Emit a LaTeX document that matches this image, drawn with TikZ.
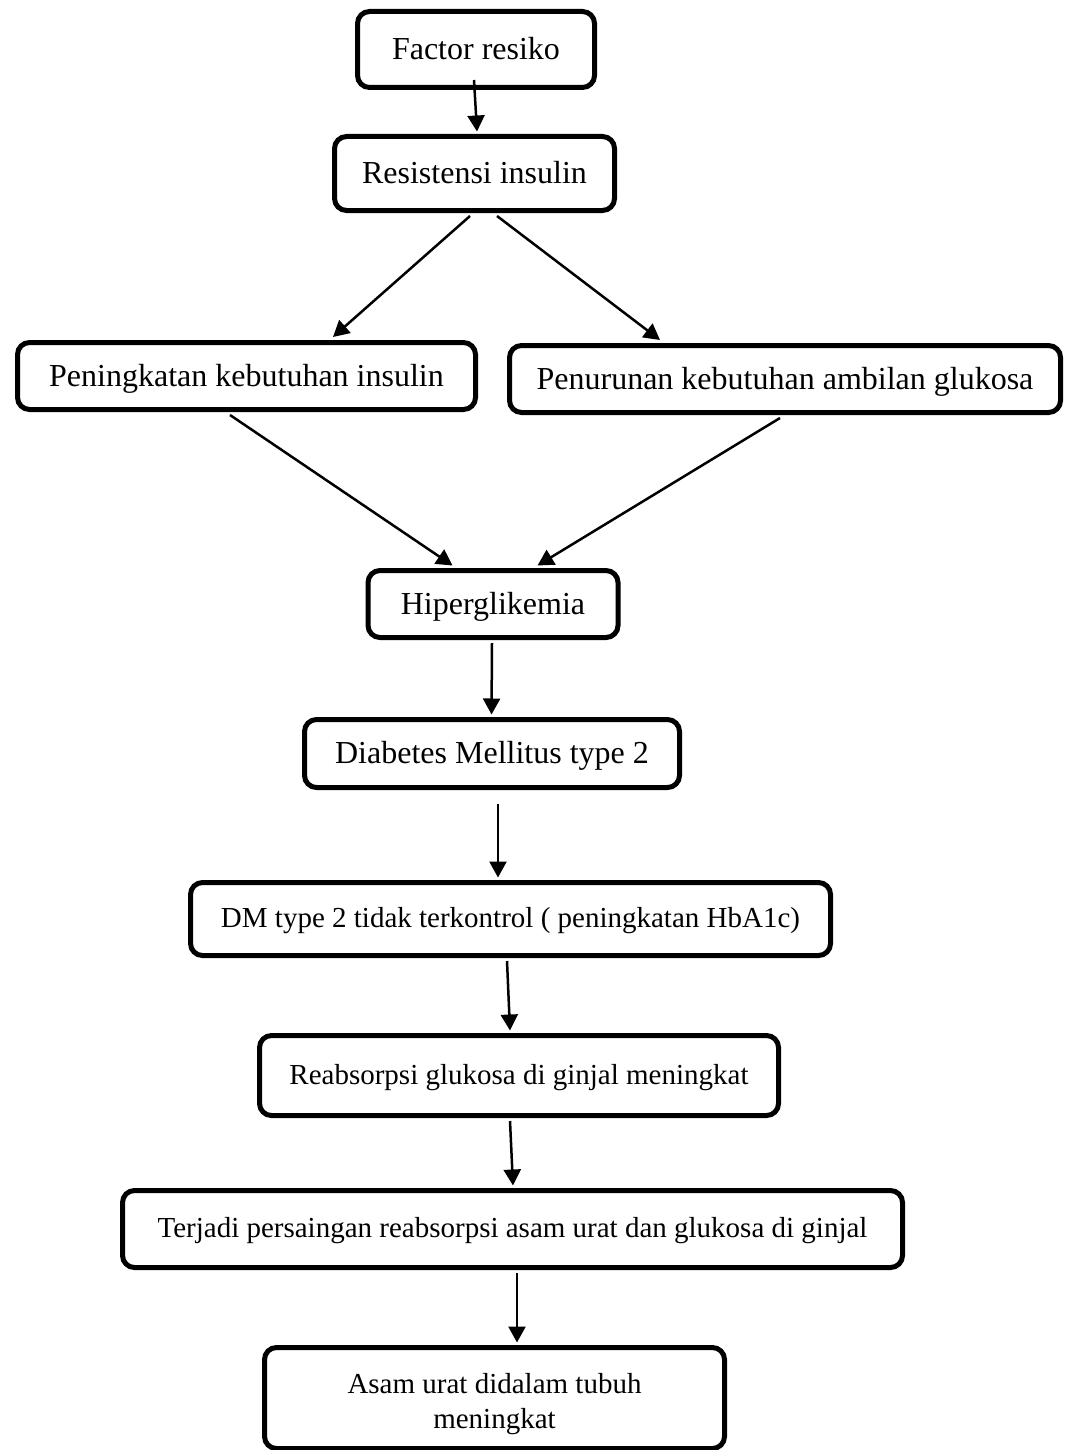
\documentclass[tikz,border=0pt]{standalone}
\usepackage{fontspec}
\setmainfont{Liberation Serif}
\usetikzlibrary{arrows.meta}
\tikzset{
  box/.style={draw=black, line width=5pt, rounded corners=12pt, fill=white, inner sep=0pt, text depth=0.22em},
  big/.style={font=\fontsize{32}{38}\selectfont},
  small/.style={font=\fontsize{29}{34.5}\selectfont},
  arr/.style={line width=2.5pt, -{Triangle[length=16pt, width=17pt]}},
}
\begin{document}
\begin{tikzpicture}[x=1pt,y=-1pt]
\useasboundingbox (0,0) rectangle (1070,1450);
\node[box,big,minimum width=237pt,minimum height=76pt] (f) at (476,49.5) {Factor resiko};
\node[box,big,minimum width=280pt,minimum height=74pt] (r) at (474.5,173.5) {Resistensi insulin};
\node[box,big,minimum width=458pt,minimum height=67pt] (p1) at (246.5,376) {Peningkatan kebutuhan insulin};
\node[box,big,minimum width=551pt,minimum height=67pt] (p2) at (785,379) {Penurunan kebutuhan ambilan glukosa};
\node[box,big,minimum width=250pt,minimum height=67pt] (h) at (493,604) {Hiperglikemia};
\node[box,big,minimum width=375pt,minimum height=68pt] (d) at (492,753.5) {Diabetes Mellitus type 2};
\node[box,small,minimum width=640pt,minimum height=73pt] (dt) at (510.5,919) {DM type 2 tidak terkontrol ( peningkatan HbA1c)};
\node[box,small,minimum width=519pt,minimum height=80pt] (ra) at (519,1075.5) {Reabsorpsi glukosa di ginjal meningkat};
\node[box,small,minimum width=780pt,minimum height=77pt] (t) at (512.5,1229) {Terjadi persaingan reabsorpsi asam urat dan glukosa di ginjal};
\node[box,minimum width=460pt,minimum height=101pt] (a) at (494.5,1398) {};
\node[small,align=center,inner sep=0pt] (at) at (494.5,1404) {Asam urat didalam tubuh\\meningkat};

\draw[arr] ([xshift=-2pt,yshift=10pt]f.south) -- ([xshift=2.5pt,yshift=2.5pt]r.north);
\draw[arr] ([xshift=-4.5pt,yshift=-3pt]r.south) -- ([xshift=86.5pt,yshift=3pt]p1.north);
\draw[arr] ([xshift=22.5pt,yshift=-3pt]r.south) -- ([xshift=-125pt,yshift=3pt]p2.north);
\draw[arr] ([xshift=-16.5pt,yshift=-3pt]p1.south) -- ([xshift=-40.5pt,yshift=2.5pt]h.north);
\draw[arr] ([xshift=-5pt,yshift=-3pt]p2.south) -- ([xshift=44.5pt,yshift=2.5pt]h.north);
\draw[arr] ([xshift=-1pt,yshift=-3pt]h.south) -- ([xshift=-0.5pt,yshift=2.5pt]d.north);
\draw[arr] ([xshift=6pt,yshift=-14pt]d.south) -- ([xshift=-12.5pt,yshift=2.5pt]dt.north);
\draw[arr] ([xshift=-3.5pt,yshift=-3pt]dt.south) -- ([xshift=-9pt,yshift=2.5pt]ra.north);
\draw[arr] ([xshift=-9pt,yshift=-3pt]ra.south) -- ([xshift=0.5pt,yshift=2.5pt]t.north);
\draw[arr] ([xshift=4.5pt,yshift=-3pt]t.south) -- ([xshift=22.5pt,yshift=2.5pt]a.north);
\end{tikzpicture}
\end{document}
